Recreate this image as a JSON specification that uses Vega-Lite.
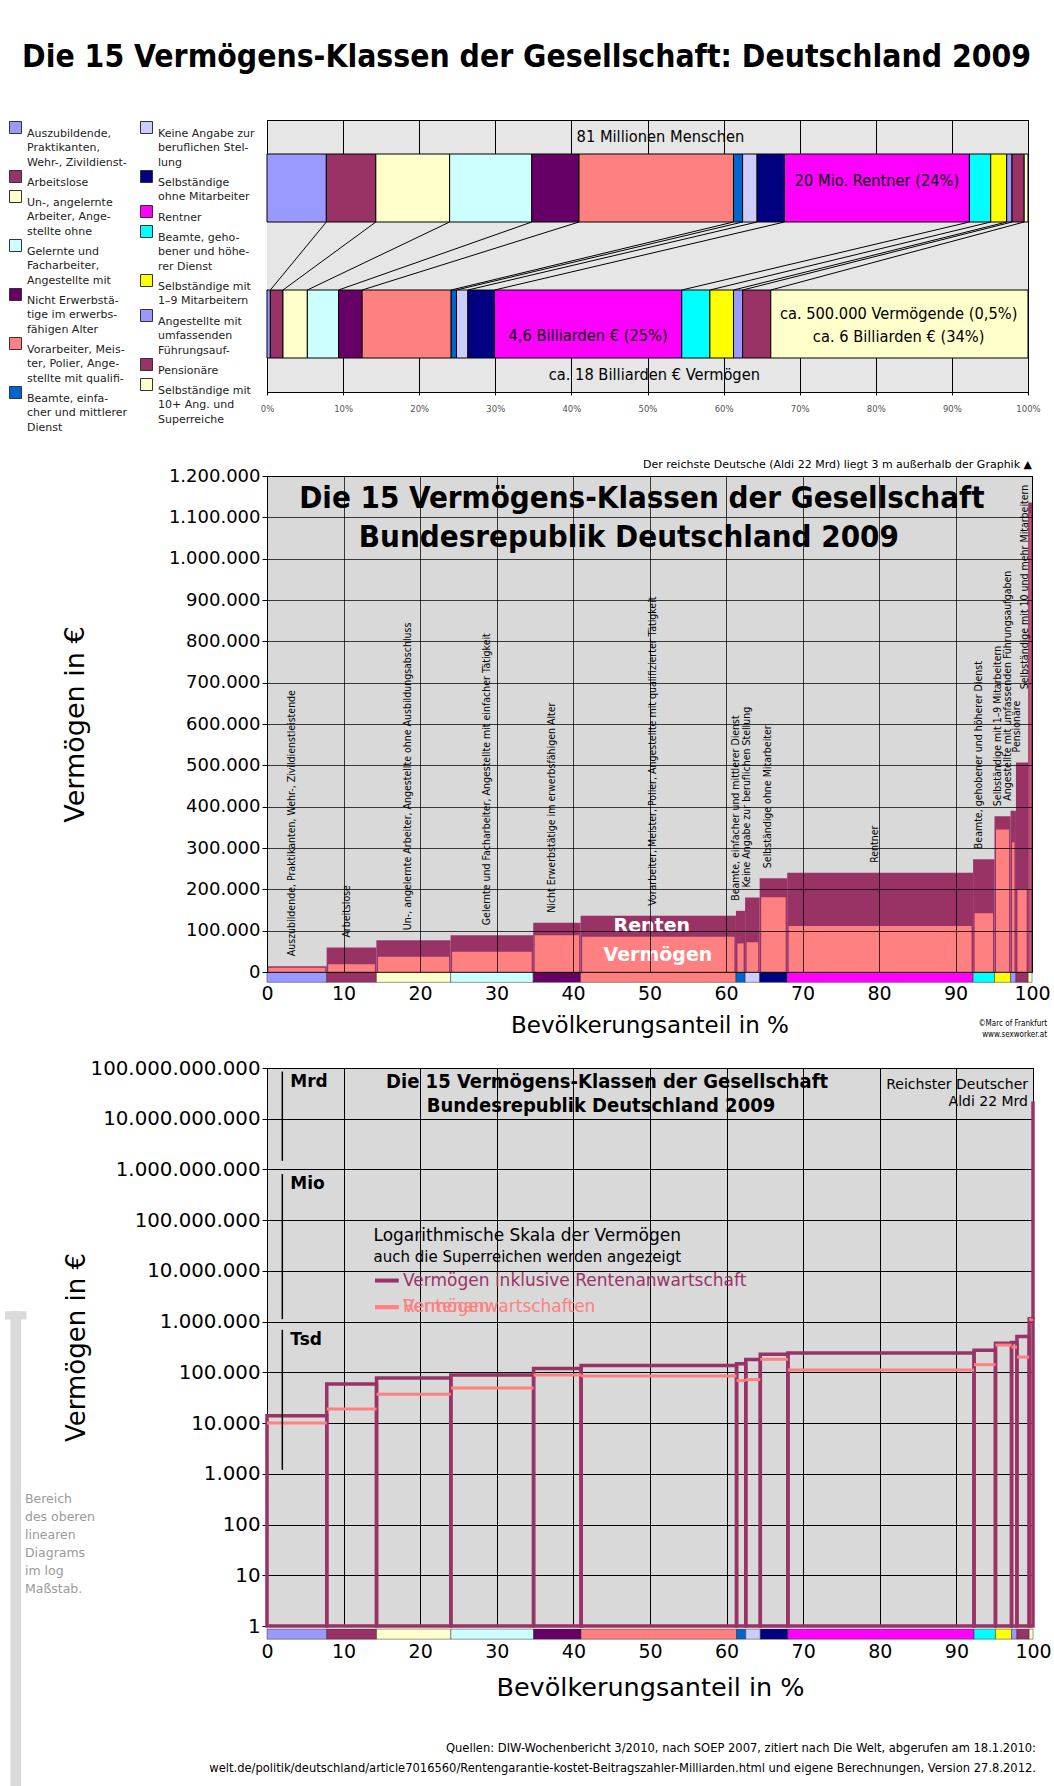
{
"$schema": "https://vega.github.io/schema/vega-lite/v6.json",
"padding": {"left": 1, "top": 41, "right": 5, "bottom": 0},
"background": "white",
"config": {
  "locale": {"number": {"decimal": ",", "thousands": ".", "grouping": [3], "currency": ["", " €"]}},
  "view": {"stroke": null},
  "font": "DejaVu Sans",
  "axis": {"labelFont": "DejaVu Sans", "titleFont": "DejaVu Sans", "titleFontWeight": "normal", "labelColor": "#000", "titleColor": "#000"}
},
"title": {"text": "Die 15 Vermögens-Klassen der Gesellschaft: Deutschland 2009", "font": "DejaVu Sans Condensed, Liberation Sans, sans-serif", "fontSize": 31.6, "fontWeight": "bold", "anchor": "middle", "offset": 40, "color": "#000"},
"datasets": {
  "classes": [
    {"i": 1, "name": "Auszubildende, Praktikanten, Wehr-, Zivildienstleistende", "legend": "Auszubildende,|Praktikanten,|Wehr-, Zivildienst-", "p0": 0, "p1": 7.8, "w0": 0, "w1": 0.44, "total": 14000, "verm": 10000},
    {"i": 2, "name": "Arbeitslose", "legend": "Arbeitslose", "p0": 7.8, "p1": 14.3, "w0": 0.44, "w1": 2.1, "total": 59000, "verm": 19000},
    {"i": 3, "name": "Un-, angelernte Arbeiter, Angestellte ohne Ausbildungsabschluss", "legend": "Un-, angelernte|Arbeiter, Ange-|stellte ohne", "p0": 14.3, "p1": 24.0, "w0": 2.1, "w1": 5.3, "total": 77000, "verm": 37000},
    {"i": 4, "name": "Gelernte und Facharbeiter, Angestellte mit einfacher Tätigkeit", "legend": "Gelernte und|Facharbeiter,|Angestellte mit", "p0": 24.0, "p1": 34.8, "w0": 5.3, "w1": 9.4, "total": 89000, "verm": 49000},
    {"i": 5, "name": "Nicht Erwerbstätige im erwerbsfähigen Alter", "legend": "Nicht Erwerbstä-|tige im erwerbs-|fähigen Alter", "p0": 34.8, "p1": 41.0, "w0": 9.4, "w1": 12.5, "total": 119000, "verm": 89000},
    {"i": 6, "name": "Vorarbeiter, Meister, Polier, Angestellte mit qualifizierter Tätigkeit", "legend": "Vorarbeiter, Meis-|ter, Polier, Ange-|stellte mit qualifi-", "p0": 41.0, "p1": 61.3, "w0": 12.5, "w1": 24.2, "total": 136000, "verm": 85000},
    {"i": 7, "name": "Beamte, einfacher und mittlerer Dienst", "legend": "Beamte, einfa-|cher und mittlerer|Dienst", "p0": 61.3, "p1": 62.5, "w0": 24.2, "w1": 24.9, "total": 148000, "verm": 69000},
    {"i": 8, "name": "Keine Angabe zur beruflichen Stellung", "legend": "Keine Angabe zur|beruflichen Stel-|lung", "p0": 62.5, "p1": 64.4, "w0": 24.9, "w1": 26.4, "total": 180000, "verm": 72000},
    {"i": 9, "name": "Selbständige ohne Mitarbeiter", "legend": "Selbständige|ohne Mitarbeiter", "p0": 64.4, "p1": 68.0, "w0": 26.4, "w1": 29.9, "total": 227000, "verm": 181000},
    {"i": 10, "name": "Rentner", "legend": "Rentner", "p0": 68.0, "p1": 92.3, "w0": 29.9, "w1": 54.5, "total": 240000, "verm": 111000},
    {"i": 11, "name": "Beamte, gehobener und höherer Dienst", "legend": "Beamte, geho-|bener und höhe-|rer Dienst", "p0": 92.3, "p1": 95.1, "w0": 54.5, "w1": 58.2, "total": 273000, "verm": 142000},
    {"i": 12, "name": "Selbständige mit 1–9 Mitarbeitern", "legend": "Selbständige mit|1–9 Mitarbeitern", "p0": 95.1, "p1": 97.2, "w0": 58.2, "w1": 61.3, "total": 377000, "verm": 345000},
    {"i": 13, "name": "Angestellte mit umfassenden Führungsaufgaben", "legend": "Angestellte mit|umfassenden|Führungsauf-", "p0": 97.2, "p1": 97.9, "w0": 61.3, "w1": 62.5, "total": 390000, "verm": 314000},
    {"i": 14, "name": "Pensionäre", "legend": "Pensionäre", "p0": 97.9, "p1": 99.5, "w0": 62.5, "w1": 66.2, "total": 507000, "verm": 200000},
    {"i": 15, "name": "Selbständige mit 10 und mehr Mitarbeitern", "legend": "Selbständige mit|10+ Ang. und|Superreiche", "p0": 99.5, "p1": 100, "w0": 66.2, "w1": 100, "total": 1136000, "verm": 1110000}
  ]
},
"spacing": 17,
"resolve": {"scale": {"x": "independent", "y": "independent", "color": "independent"}},
"vconcat": [
{
  "width": 761, "height": 272,
  "view": {"fill": "#E6E6E6", "stroke": "#000"},
  "layer": [
    {
      "data": {"values": [{}]},
      "mark": {"type": "rect", "fill": "#E6E6E6"},
      "encoding": {
        "x": {"datum": 0, "type": "quantitative", "scale": {"domain": [0, 100], "nice": false},
              "axis": {"values": [0,10,20,30,40,50,60,70,80,90,100], "labelExpr": "datum.value + '%'", "labelFontSize": 8.5, "labelColor": "#555", "labelFlush": false, "grid": true, "gridColor": "#000", "gridOpacity": 1, "tickSize": 3, "tickColor": "#000", "domainColor": "#000", "labelPadding": 9, "title": null}},
        "x2": {"datum": 100},
        "y": {"datum": 1, "type": "quantitative", "scale": {"domain": [0, 8], "nice": false}, "axis": null},
        "y2": {"datum": 7}
      }
    },
    {
      "data": {"name": "classes"},
      "transform": [{"filter": "datum.i <= 7"}],
      "layer": [
        {"mark": {"type": "rect", "stroke": "#000", "strokeWidth": 1},
         "encoding": {
           "x": {"field": "p0", "type": "quantitative"}, "x2": {"field": "p1"},
           "y": {"datum": 5, "axis": null}, "y2": {"datum": 7},
           "color": {"field": "legend", "type": "nominal",
             "scale": {"domain": ["Auszubildende,|Praktikanten,|Wehr-, Zivildienst-", "Arbeitslose", "Un-, angelernte|Arbeiter, Ange-|stellte ohne", "Gelernte und|Facharbeiter,|Angestellte mit", "Nicht Erwerbstä-|tige im erwerbs-|fähigen Alter", "Vorarbeiter, Meis-|ter, Polier, Ange-|stellte mit qualifi-", "Beamte, einfa-|cher und mittlerer|Dienst"],
                       "range": ["#9999FF", "#993366", "#FFFFCC", "#CCFFFF", "#660066", "#FF8080", "#0066CC"]},
             "legend": {"orient": "none", "legendX": -265, "legendY": -6, "padding": 7, "direction": "vertical", "title": null, "symbolType": "square", "symbolSize": 144, "symbolStrokeColor": "#333", "symbolStrokeWidth": 1, "symbolOpacity": 1, "labelFont": "DejaVu Sans", "labelFontSize": 11, "labelColor": "#222", "labelLimit": 200, "labelOffset": 5, "labelExpr": "split(datum.label, '|')", "labelBaseline": "top", "rowPadding": 0, "encode": {"labels": {"update": {"lineHeight": {"value": 14.7}}}}}}
         }},
        {"mark": {"type": "rect", "stroke": "#000", "strokeWidth": 1},
         "encoding": {
           "x": {"field": "w0", "type": "quantitative"}, "x2": {"field": "w1"},
           "y": {"datum": 1, "axis": null}, "y2": {"datum": 3},
           "color": {"field": "legend", "type": "nominal"}
         }}
      ]
    },
    {
      "data": {"name": "classes"},
      "transform": [{"filter": "datum.i > 7"}],
      "layer": [
        {"mark": {"type": "rect", "stroke": "#000", "strokeWidth": 1},
         "encoding": {
           "x": {"field": "p0", "type": "quantitative"}, "x2": {"field": "p1"},
           "y": {"datum": 5, "axis": null}, "y2": {"datum": 7},
           "color": {"field": "legend", "type": "nominal",
             "scale": {"domain": ["Keine Angabe zur|beruflichen Stel-|lung", "Selbständige|ohne Mitarbeiter", "Rentner", "Beamte, geho-|bener und höhe-|rer Dienst", "Selbständige mit|1–9 Mitarbeitern", "Angestellte mit|umfassenden|Führungsauf-", "Pensionäre", "Selbständige mit|10+ Ang. und|Superreiche"],
                       "range": ["#CCCCFF", "#000080", "#FF00FF", "#00FFFF", "#FFFF00", "#9999FF", "#993366", "#FFFFCC"]},
             "legend": {"orient": "none", "legendX": -134, "legendY": -6, "padding": 7, "direction": "vertical", "title": null, "symbolType": "square", "symbolSize": 144, "symbolStrokeColor": "#333", "symbolStrokeWidth": 1, "symbolOpacity": 1, "labelFont": "DejaVu Sans", "labelFontSize": 11, "labelColor": "#222", "labelLimit": 200, "labelOffset": 5, "labelExpr": "split(datum.label, '|')", "labelBaseline": "top", "rowPadding": 0, "encode": {"labels": {"update": {"lineHeight": {"value": 14.7}}}}}}
         }},
        {"mark": {"type": "rect", "stroke": "#000", "strokeWidth": 1},
         "encoding": {
           "x": {"field": "w0", "type": "quantitative"}, "x2": {"field": "w1"},
           "y": {"datum": 1, "axis": null}, "y2": {"datum": 3},
           "color": {"field": "legend", "type": "nominal"}
         }}
      ]
    },
    {
      "data": {"name": "classes"},
      "transform": [{"filter": "datum.i < 15"}],
      "mark": {"type": "rule", "stroke": "#000", "strokeWidth": 1},
      "encoding": {
        "x": {"field": "p1", "type": "quantitative"}, "x2": {"field": "w1"},
        "y": {"datum": 5, "axis": null}, "y2": {"datum": 3}
      }
    },
    {
      "data": {"values": [
        {"t": "81 Millionen Menschen", "x": 51.7, "y": 7.5},
        {"t": "ca. 18 Billiarden € Vermögen", "x": 50.9, "y": 0.5},
        {"t": "20 Mio. Rentner (24%)", "x": 80.15, "y": 6.2},
        {"t": "4,6 Billiarden € (25%)", "x": 42.2, "y": 1.64},
        {"t": "ca. 500.000 Vermögende (0,5%)", "x": 83, "y": 2.3},
        {"t": "ca. 6 Billiarden € (34%)", "x": 83, "y": 1.61}
      ]},
      "mark": {"type": "text", "font": "DejaVu Sans Condensed, Liberation Sans, sans-serif", "fontSize": 16.3, "color": "#000"},
      "encoding": {
        "x": {"field": "x", "type": "quantitative"},
        "y": {"field": "y", "type": "quantitative", "axis": null},
        "text": {"field": "t"}
      }
    }
  ],
  "resolve": {"scale": {"color": "independent"}}
},
{
  "width": 765, "height": 496,
  "view": {"fill": "#D9D9D9", "stroke": "#000"},
  "title": {"text": "Der reichste Deutsche (Aldi 22 Mrd) liegt 3 m außerhalb der Graphik ▲", "anchor": "end", "fontSize": 11, "fontWeight": "normal", "font": "DejaVu Sans", "offset": -3, "frame": "group", "color": "#000"},
  "data": {"name": "classes"},
  "layer": [
    {
      "mark": {"type": "rect", "fill": "#993366"},
      "encoding": {
        "x": {"field": "p0", "type": "quantitative", "scale": {"domain": [0, 100], "nice": false},
              "axis": {"values": [0,10,20,30,40,50,60,70,80,90,100], "grid": true, "gridColor": "#000", "gridOpacity": 0.75, "zindex": 1, "domain": false, "ticks": false, "offset": 10, "labelPadding": 2, "labelFontSize": 19, "labelFlush": false, "title": "Bevölkerungsanteil in %", "titleFontSize": 23, "titlePadding": 11}},
        "x2": {"field": "p1"},
        "y": {"field": "total", "type": "quantitative", "scale": {"domain": [0, 1200000], "nice": false},
              "axis": {"values": [0,100000,200000,300000,400000,500000,600000,700000,800000,900000,1000000,1100000,1200000], "format": ",d", "grid": true, "gridColor": "#000", "gridOpacity": 0.75, "zindex": 1, "domain": false, "tickSize": 5, "tickColor": "#000", "labelFontSize": 18, "labelPadding": 2, "title": "Vermögen in €", "titleFontSize": 27, "titlePadding": 79}},
        "y2": {"datum": 0}
      }
    },
    {
      "mark": {"type": "rect", "fill": "#FF8080", "xOffset": 1.5, "x2Offset": -1.5},
      "encoding": {
        "x": {"field": "p0", "type": "quantitative"}, "x2": {"field": "p1"},
        "y": {"field": "verm", "type": "quantitative"}, "y2": {"datum": 0}
      }
    },
    {
      "mark": {"type": "rect", "stroke": "#333", "strokeWidth": 0.5},
      "encoding": {
        "x": {"field": "p0", "type": "quantitative"}, "x2": {"field": "p1"},
        "y": {"datum": 0}, "y2": {"datum": -25000},
        "color": {"field": "name", "type": "nominal", "legend": null,
          "scale": {"domain": ["Auszubildende, Praktikanten, Wehr-, Zivildienstleistende", "Arbeitslose", "Un-, angelernte Arbeiter, Angestellte ohne Ausbildungsabschluss", "Gelernte und Facharbeiter, Angestellte mit einfacher Tätigkeit", "Nicht Erwerbstätige im erwerbsfähigen Alter", "Vorarbeiter, Meister, Polier, Angestellte mit qualifizierter Tätigkeit", "Beamte, einfacher und mittlerer Dienst", "Keine Angabe zur beruflichen Stellung", "Selbständige ohne Mitarbeiter", "Rentner", "Beamte, gehobener und höherer Dienst", "Selbständige mit 1–9 Mitarbeitern", "Angestellte mit umfassenden Führungsaufgaben", "Pensionäre", "Selbständige mit 10 und mehr Mitarbeitern"],
                    "range": ["#9999FF", "#993366", "#FFFFCC", "#CCFFFF", "#660066", "#FF8080", "#0066CC", "#CCCCFF", "#000080", "#FF00FF", "#00FFFF", "#FFFF00", "#9999FF", "#993366", "#FFFFCC"]}}
      }
    },
    {
      "transform": [{"calculate": "(datum.p0 + datum.p1) / 2", "as": "mid"}, {"calculate": "min(datum.total, 660000)", "as": "ly"}],
      "mark": {"type": "text", "angle": 270, "align": "left", "baseline": "bottom", "dx": 10, "font": "DejaVu Sans Condensed, Liberation Sans, sans-serif", "fontSize": 10.5, "color": "#000"},
      "encoding": {
        "x": {"field": "mid", "type": "quantitative"},
        "y": {"field": "ly", "type": "quantitative"},
        "text": {"field": "name"}
      }
    },
    {
      "data": {"values": [
        {"t": "Die 15 Vermögens-Klassen der Gesellschaft", "x": 49.0, "y": 1144000},
        {"t": "Bundesrepublik Deutschland 2009", "x": 47.3, "y": 1049000}
      ]},
      "mark": {"type": "text", "font": "DejaVu Sans Condensed, Liberation Sans, sans-serif", "fontSize": 31, "fontWeight": "bold", "color": "#000"},
      "encoding": {
        "x": {"field": "x", "type": "quantitative"},
        "y": {"field": "y", "type": "quantitative"},
        "text": {"field": "t"}
      }
    },
    {
      "data": {"values": [
        {"t": "Renten", "x": 50.3, "y": 111000},
        {"t": "Vermögen", "x": 51.1, "y": 42000}
      ]},
      "mark": {"type": "text", "font": "DejaVu Sans", "fontSize": 19, "fontWeight": "bold", "color": "#FFFFFF"},
      "encoding": {
        "x": {"field": "x", "type": "quantitative"},
        "y": {"field": "y", "type": "quantitative"},
        "text": {"field": "t"}
      }
    },
    {
      "data": {"values": [{}]},
      "mark": {"type": "text", "text": ["©Marc of Frankfurt", "www.sexworker.at"], "align": "right", "baseline": "top", "dx": 15, "dy": 48, "fontSize": 8, "lineHeight": 11, "font": "DejaVu Sans Condensed, Liberation Sans, sans-serif", "color": "#000"},
      "encoding": {
        "x": {"datum": 100},
        "y": {"datum": 0}
      }
    }
  ]
},
{
  "width": 766, "height": 558,
  "view": {"fill": "#D9D9D9", "stroke": "#000"},
  "layer": [
    {
      "data": {"name": "classes"},
      "mark": {"type": "rect", "fill": "transparent", "stroke": "#993366", "strokeWidth": 3.5},
      "encoding": {
        "x": {"field": "p0", "type": "quantitative", "scale": {"domain": [0, 100], "nice": false},
              "axis": {"values": [0,10,20,30,40,50,60,70,80,90,100], "grid": true, "gridColor": "#000", "domain": false, "ticks": false, "offset": 14, "labelPadding": 2, "labelFontSize": 19, "labelFlush": false, "title": "Bevölkerungsanteil in %", "titleFontSize": 25.5, "titlePadding": 14}},
        "x2": {"field": "p1"},
        "y": {"field": "total", "type": "quantitative", "scale": {"type": "log", "domain": [1, 100000000000], "nice": false},
              "axis": {"values": [1,10,100,1000,10000,100000,1000000,10000000,100000000,1000000000,10000000000,100000000000], "format": ",d", "grid": true, "gridColor": "#000", "domain": false, "tickSize": 5, "tickColor": "#000", "labelFontSize": 19.8, "labelPadding": 2, "title": "Vermögen in €", "titleFontSize": 26, "titlePadding": 1}},
        "y2": {"datum": 1}
      }
    },
    {
      "data": {"name": "classes"},
      "mark": {"type": "rule", "stroke": "#FF8080", "strokeWidth": 3},
      "encoding": {
        "x": {"field": "p0", "type": "quantitative"}, "x2": {"field": "p1"},
        "y": {"field": "verm", "type": "quantitative"}
      }
    },
    {
      "data": {"values": [{"p": 100, "value": 22000000000}]},
      "mark": {"type": "rule", "stroke": "#993366", "strokeWidth": 3.5},
      "encoding": {
        "x": {"field": "p", "type": "quantitative"},
        "y": {"field": "value", "type": "quantitative"},
        "y2": {"datum": 1136000}
      }
    },
    {
      "data": {"name": "classes"},
      "mark": {"type": "rect", "stroke": "#333", "strokeWidth": 0.5},
      "encoding": {
        "x": {"field": "p0", "type": "quantitative"}, "x2": {"field": "p1"},
        "y": {"datum": 0.87}, "y2": {"datum": 0.55},
        "color": {"field": "name", "type": "nominal", "legend": null,
          "scale": {"domain": ["Auszubildende, Praktikanten, Wehr-, Zivildienstleistende", "Arbeitslose", "Un-, angelernte Arbeiter, Angestellte ohne Ausbildungsabschluss", "Gelernte und Facharbeiter, Angestellte mit einfacher Tätigkeit", "Nicht Erwerbstätige im erwerbsfähigen Alter", "Vorarbeiter, Meister, Polier, Angestellte mit qualifizierter Tätigkeit", "Beamte, einfacher und mittlerer Dienst", "Keine Angabe zur beruflichen Stellung", "Selbständige ohne Mitarbeiter", "Rentner", "Beamte, gehobener und höherer Dienst", "Selbständige mit 1–9 Mitarbeitern", "Angestellte mit umfassenden Führungsaufgaben", "Pensionäre", "Selbständige mit 10 und mehr Mitarbeitern"],
                    "range": ["#9999FF", "#993366", "#FFFFCC", "#CCFFFF", "#660066", "#FF8080", "#0066CC", "#CCCCFF", "#000080", "#FF00FF", "#00FFFF", "#FFFF00", "#9999FF", "#993366", "#FFFFCC"]}}
      }
    },
    {
      "data": {"values": [
        {"u": "Mrd", "lo": 1480000000, "hi": 85000000000},
        {"u": "Mio", "lo": 1120000, "hi": 810000000},
        {"u": "Tsd", "lo": 1200, "hi": 690000}
      ]},
      "layer": [
        {"mark": {"type": "rule", "stroke": "#000", "strokeWidth": 1.5},
         "encoding": {"x": {"datum": 2}, "y": {"field": "lo", "type": "quantitative"}, "y2": {"field": "hi"}}},
        {"mark": {"type": "text", "align": "left", "baseline": "top", "dx": 8, "dy": 2, "fontSize": 17, "fontWeight": "bold", "font": "DejaVu Sans", "color": "#000"},
         "encoding": {"x": {"datum": 2}, "y": {"field": "hi", "type": "quantitative"}, "text": {"field": "u"}}}
      ]
    },
    {
      "data": {"values": [
        {"t": "Die 15 Vermögens-Klassen der Gesellschaft", "x": 44.4, "y": 52500000000},
        {"t": "Bundesrepublik Deutschland 2009", "x": 43.6, "y": 18200000000}
      ]},
      "mark": {"type": "text", "font": "DejaVu Sans Condensed, Liberation Sans, sans-serif", "fontSize": 20, "fontWeight": "bold", "color": "#000"},
      "encoding": {
        "x": {"field": "x", "type": "quantitative"},
        "y": {"field": "y", "type": "quantitative"},
        "text": {"field": "t"}
      }
    },
    {
      "data": {"values": [{}]},
      "mark": {"type": "text", "text": ["Reichster Deutscher", "Aldi 22 Mrd"], "align": "right", "baseline": "top", "dx": -5, "fontSize": 14, "lineHeight": 17, "font": "DejaVu Sans", "color": "#000"},
      "encoding": {"x": {"datum": 100}, "y": {"datum": 63000000000}}
    },
    {
      "data": {"values": [{"t": "Logarithmische Skala der Vermögen", "x": 13.9, "y": 49300000}]},
      "mark": {"type": "text", "align": "left", "fontSize": 17, "font": "DejaVu Sans", "color": "#000"},
      "encoding": {"x": {"field": "x", "type": "quantitative"}, "y": {"field": "y", "type": "quantitative"}, "text": {"field": "t"}}
    },
    {
      "data": {"values": [{"t": "auch die Superreichen werden angezeigt", "x": 13.9, "y": 18600000}]},
      "mark": {"type": "text", "align": "left", "fontSize": 15, "font": "DejaVu Sans", "color": "#000"},
      "encoding": {"x": {"field": "x", "type": "quantitative"}, "y": {"field": "y", "type": "quantitative"}, "text": {"field": "t"}}
    },
    {
      "data": {"values": [
        {"s": "Vermögen inklusive Rentenanwartschaft", "a": 14.1, "b": 17.2, "tx": 17.76, "y": 6450000},
        {"s": "Rentenanwartschaften", "a": 14.1, "b": 17.2, "tx": 17.76, "y": 1930000},
        {"s": "Vermögen", "a": 14.1, "b": 17.2, "tx": 17.76, "y": 1930000}
      ]},
      "layer": [
        {"mark": {"type": "rule", "strokeWidth": 4},
         "encoding": {"x": {"field": "a", "type": "quantitative"}, "x2": {"field": "b"}, "y": {"field": "y", "type": "quantitative"},
           "stroke": {"field": "s", "type": "nominal", "legend": null, "scale": {"domain": ["Vermögen inklusive Rentenanwartschaft", "Rentenanwartschaften", "Vermögen"], "range": ["#993366", "#FF8080", "#FF8080"]}}}},
        {"mark": {"type": "text", "align": "left", "fontSize": 17, "font": "DejaVu Sans"},
         "encoding": {"x": {"field": "tx", "type": "quantitative"}, "y": {"field": "y", "type": "quantitative"}, "text": {"field": "s"},
           "fill": {"field": "s", "type": "nominal", "legend": null, "scale": {"domain": ["Vermögen inklusive Rentenanwartschaft", "Rentenanwartschaften", "Vermögen"], "range": ["#993366", "#FF8080", "#FF8080"]}}}}
      ]
    },
    {
      "data": {"values": [{}]},
      "mark": {"type": "rect", "fill": "#DADADA"},
      "encoding": {"x": {"datum": -33.5}, "x2": {"datum": -32.1}, "y": {"datum": 1600000}, "y2": {"datum": 0.0007}}
    },
    {
      "data": {"values": [{}]},
      "mark": {"type": "rect", "fill": "#DADADA"},
      "encoding": {"x": {"datum": -34.2}, "x2": {"datum": -31.4}, "y": {"datum": 1600000}, "y2": {"datum": 1100000}}
    },
    {
      "data": {"values": [{}]},
      "mark": {"type": "text", "text": ["Bereich", "des oberen", "linearen", "Diagrams", "im log", "Maßstab."], "align": "left", "baseline": "top", "fontSize": 12.5, "lineHeight": 18, "font": "DejaVu Sans", "color": "#9a9a9a"},
      "encoding": {"x": {"datum": -31.6}, "y": {"datum": 420}}
    },
    {
      "data": {"values": [{}]},
      "mark": {"type": "text", "text": ["Quellen: DIW-Wochenbericht 3/2010, nach SOEP 2007, zitiert nach Die Welt, abgerufen am 18.1.2010:", "welt.de/politik/deutschland/article7016560/Rentengarantie-kostet-Beitragszahler-Milliarden.html und eigene Berechnungen, Version 27.8.2012."], "align": "right", "baseline": "top", "dx": 3, "dy": 116, "fontSize": 12.8, "lineHeight": 20, "font": "DejaVu Sans Condensed, Liberation Sans, sans-serif", "color": "#000"},
      "encoding": {"x": {"datum": 100}, "y": {"datum": 1}}
    }
  ]
}
]
}
